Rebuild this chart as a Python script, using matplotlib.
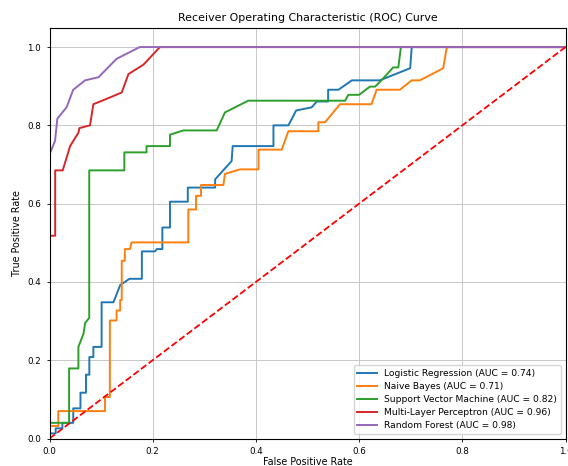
import matplotlib
matplotlib.use("Agg")
import matplotlib.pyplot as plt

# ---- data ----
lr_fpr = [0, 0, 0.012, 0.012, 0.025, 0.025, 0.046, 0.046, 0.060, 0.060, 0.0707, 0.0707, 0.0772, 0.0772,
          0.085, 0.085, 0.101, 0.101, 0.124, 0.137, 0.155, 0.179, 0.179, 0.2045, 0.208, 0.2187, 0.2187,
          0.2335, 0.2335, 0.268, 0.268, 0.321, 0.321, 0.353, 0.355, 0.434, 0.434, 0.463, 0.478, 0.508,
          0.518, 0.540, 0.540, 0.560, 0.586, 0.640, 0.699, 0.702, 1.0]
lr_tpr = [0, 0.013, 0.013, 0.026, 0.026, 0.040, 0.040, 0.077, 0.077, 0.117, 0.117, 0.163, 0.163, 0.208,
          0.208, 0.234, 0.234, 0.348, 0.348, 0.392, 0.408, 0.408, 0.478, 0.478, 0.484, 0.484, 0.539,
          0.539, 0.605, 0.605, 0.641, 0.641, 0.662, 0.709, 0.747, 0.747, 0.800, 0.800, 0.838, 0.846,
          0.861, 0.861, 0.891, 0.891, 0.915, 0.915, 0.946, 1.0, 1.0]

nb_fpr = [0, 0, 0.017, 0.017, 0.1076, 0.1076, 0.117, 0.117, 0.130, 0.130, 0.137, 0.137, 0.140, 0.140,
          0.146, 0.146, 0.156, 0.159, 0.269, 0.269, 0.284, 0.284, 0.2936, 0.2936, 0.337, 0.340, 0.369,
          0.405, 0.405, 0.450, 0.463, 0.521, 0.521, 0.534, 0.563, 0.624, 0.634, 0.679, 0.702, 0.718,
          0.763, 0.770, 1.0]
nb_tpr = [0, 0.032, 0.032, 0.070, 0.070, 0.106, 0.106, 0.3015, 0.3015, 0.327, 0.327, 0.354, 0.354, 0.454,
          0.454, 0.484, 0.484, 0.501, 0.501, 0.585, 0.585, 0.620, 0.620, 0.6476, 0.6476, 0.676, 0.6875,
          0.6875, 0.738, 0.738, 0.785, 0.785, 0.808, 0.808, 0.854, 0.854, 0.891, 0.891, 0.915, 0.915,
          0.946, 1.0, 1.0]

svm_fpr = [0, 0, 0.038, 0.038, 0.056, 0.056, 0.066, 0.069, 0.077, 0.077, 0.145, 0.145, 0.188, 0.188,
           0.2335, 0.2335, 0.259, 0.324, 0.340, 0.385, 0.573, 0.579, 0.600, 0.621, 0.631, 0.644, 0.666,
           0.676, 0.681, 1.0]
svm_tpr = [0, 0.040, 0.040, 0.179, 0.179, 0.234, 0.268, 0.295, 0.308, 0.685, 0.685, 0.731, 0.731, 0.747,
           0.747, 0.776, 0.787, 0.787, 0.833, 0.863, 0.863, 0.878, 0.878, 0.899, 0.899, 0.916, 0.948,
           0.948, 1.0, 1.0]

mlp_fpr = [0, 0, 0.011, 0.011, 0.0256, 0.040, 0.046, 0.056, 0.058, 0.0785, 0.085, 0.1076, 0.140, 0.153,
           0.182, 0.214, 1.0]
mlp_tpr = [0, 0.518, 0.518, 0.685, 0.685, 0.747, 0.760, 0.781, 0.793, 0.800, 0.854, 0.866, 0.884, 0.931,
           0.955, 1.0, 1.0]

rf_fpr = [0, 0, 0.0107, 0.0152, 0.033, 0.046, 0.069, 0.095, 0.130, 0.175, 1.0]
rf_tpr = [0, 0.726, 0.760, 0.817, 0.846, 0.891, 0.915, 0.923, 0.970, 1.0, 1.0]

labels = ["Logistic Regression (AUC = 0.74)", "Naive Bayes (AUC = 0.71)",
          "Support Vector Machine (AUC = 0.82)", "Multi-Layer Perceptron (AUC = 0.96)",
          "Random Forest (AUC = 0.98)"]
curves = [(lr_fpr, lr_tpr), (nb_fpr, nb_tpr), (svm_fpr, svm_tpr), (mlp_fpr, mlp_tpr), (rf_fpr, rf_tpr)]
colors = ["#1f77b4", "#ff7f0e", "#2ca02c", "#d62728", "#9467bd"]

fig = plt.figure(figsize=(5.68, 4.66), dpi=100)
ax = fig.add_axes([49.5 / 568, 27.5 / 466, 516 / 568, 411 / 466])

for (f, t), lab, c in zip(curves, labels, colors):
    ax.plot(f, t, color=c, lw=1.4, label=lab)
ax.plot([0, 1], [0, 1], color="red", linestyle="--", lw=1.3)

ax.set_xlim(0, 1)
ax.set_ylim(0, 1.05)
ax.set_xticks([0, 0.2, 0.4, 0.6, 0.8, 1.0])
ax.set_yticks([0, 0.2, 0.4, 0.6, 0.8, 1.0])
ax.tick_params(labelsize=6.3, length=2.5, width=0.6)
ax.grid(True, color="#c8c8c8", lw=0.7)
for s in ax.spines.values():
    s.set_linewidth(0.8)
ax.set_xlabel("False Positive Rate", fontsize=6.9, labelpad=1)
ax.set_ylabel("True Positive Rate", fontsize=6.9, labelpad=4)
ax.set_title("Receiver Operating Characteristic (ROC) Curve", fontsize=7.9, pad=5)
ax.legend(loc="lower right", fontsize=6.55, handlelength=2.2, borderpad=0.4, labelspacing=0.45)

fig.savefig("out.png", dpi=100)
